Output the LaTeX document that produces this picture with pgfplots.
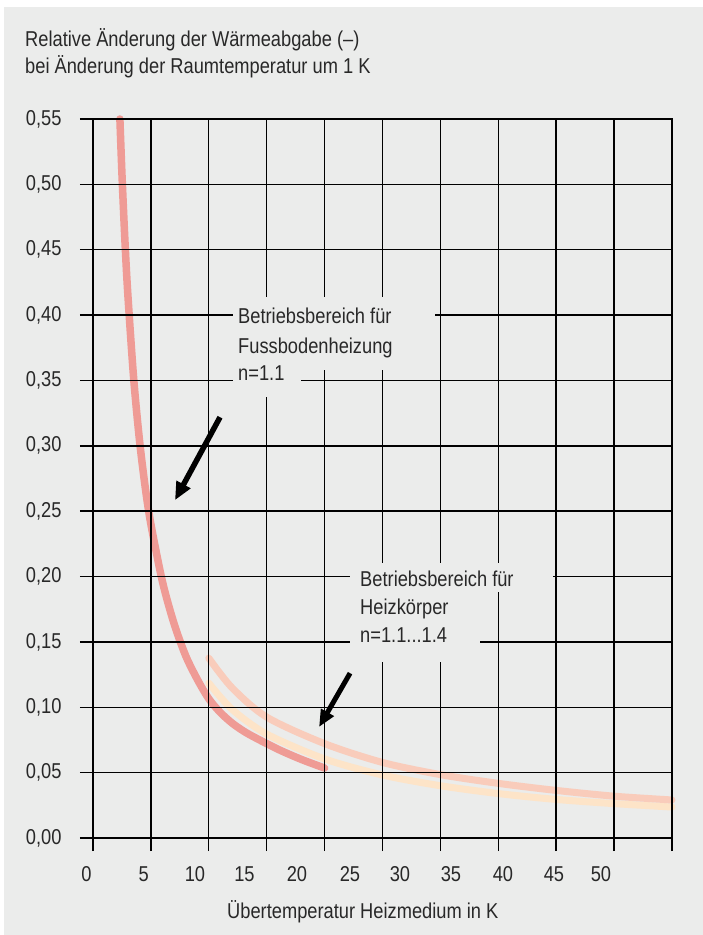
\documentclass[border=0pt]{standalone}
\usepackage{fontspec}
\setmainfont{Liberation Sans}[FakeStretch=0.85]
\usepackage{pgfplots}
\pgfplotsset{compat=1.18}
\usetikzlibrary{arrows.meta}
\definecolor{bgc}{RGB}{235,236,235}
\definecolor{txt}{RGB}{40,40,40}
\definecolor{redc}{RGB}{239,155,149}
\definecolor{peach}{RGB}{249,204,187}
\definecolor{cream}{RGB}{253,228,200}
\newcommand{\fs}{\fontsize{21.5}{26}\selectfont}
\begin{document}
\begin{tikzpicture}[x=1pt,y=1pt]
\fill[white] (0,0) rectangle (703,-935);
\fill[bgc] (4,-7) rectangle (703,-935);
\node[anchor=base west, font=\fs, text=txt, inner sep=0] at (25,-46) {Relative Änderung der Wärmeabgabe (–)};
\node[anchor=base west, font=\fs, text=txt, inner sep=0] at (25,-73) {bei Änderung der Raumtemperatur um 1 K};
\begin{axis}[at={(93pt,-838pt)}, anchor=south west, scale only axis,
  width=579pt, height=719pt,
  xmin=0, xmax=50, ymin=0, ymax=0.55, clip=false, axis on top,
  axis line style={line width=1.4pt, black},
  grid=major, grid style={line width=1.4pt, black},
  tick pos=left, tick align=outside, major tick length=13pt,
  major tick style={line width=1.4pt, black},
  xtick={0,5,10,15,20,25,30,35,40,45,50},
  xticklabels={\kern-13pt 0,\kern-14.4pt 5,\kern-27.6pt 10,\kern-44.4pt 15,\kern-55.2pt 20,\kern-65pt 25,\kern-80.8pt 30,\kern-94.6pt 35,\kern-106.4pt 40,\kern-120.2pt 45,\kern-142pt 50},
  ytick={0,0.05,0.1,0.15,0.2,0.25,0.3,0.35,0.4,0.45,0.5,0.55},
  yticklabels={{0,00},{0,05},{0,10},{0,15},{0,20},{0,25},{0,30},{0,35},{0,40},{0,45},{0,50},{0,55}},
  tick label style={font=\fs, text=txt},
  xticklabel style={yshift=-12pt},
  yticklabel style={xshift=-15pt},
  /pgf/number format/assume math mode=true,
  xlabel={Übertemperatur Heizmedium in K},
  xlabel style={font=\fs, text=txt, at={(axis description cs:0.466,0)}, anchor=base, yshift=-80pt},
]
\addplot[color=cream, line width=7pt, smooth, line cap=round] coordinates {
(10,0.1185) (12,0.0985) (15,0.0795) (20,0.0605) (25,0.0482) (30,0.0400)
(35,0.0340) (40,0.0295) (45,0.0263) (50,0.0237)};
\addplot[color=peach, line width=7pt, smooth, line cap=round] coordinates {
(10,0.1376) (12,0.1150) (15,0.0925) (20,0.0722) (25,0.0578) (30,0.0485)
(35,0.0418) (40,0.0364) (45,0.0320) (50,0.0291)};
\addplot[color=redc, line width=7.5pt, smooth, line cap=round] coordinates {
(2.323,0.550) (2.5,0.508) (2.75,0.4582) (3,0.4170) (3.5,0.3529) (4,0.3055)
(4.5,0.2689) (5,0.2400) (6,0.1960) (7,0.1640) (8,0.1395) (9,0.1215)
(10,0.1065) (11,0.0960) (12,0.0880) (13,0.0818) (14,0.0768) (16,0.0678)
(18,0.0601) (20,0.0535)};
\draw[line width=5.5pt, -{Triangle[length=18pt,width=15pt]}] (axis cs:10.97,0.3219) -- (axis cs:7.08,0.2584);
\draw[line width=5pt, -{Triangle[length=17pt,width=14pt]}] (axis cs:22.2,0.1261) -- (axis cs:19.52,0.0849);
\coordinate (a1) at (axis cs:12.09,0.4136);
\coordinate (a2) at (axis cs:29.53,0.3578);
\coordinate (b1) at (axis cs:12.09,0.3578);
\coordinate (b2) at (axis cs:17.96,0.3372);
\coordinate (c1) at (axis cs:22.19,0.2102);
\coordinate (c2) at (axis cs:39.72,0.1881);
\coordinate (d1) at (axis cs:22.19,0.1881);
\coordinate (d2) at (axis cs:33.42,0.1346);
\coordinate (t1) at (axis cs:12.52,0.3937);
\coordinate (t2) at (axis cs:12.52,0.3708);
\coordinate (t3) at (axis cs:12.52,0.3502);
\coordinate (u1) at (axis cs:23.06,0.1927);
\coordinate (u2) at (axis cs:23.06,0.1713);
\coordinate (u3) at (axis cs:23.06,0.1498);
\end{axis}
\fill[bgc] (a1) rectangle (a2);
\fill[bgc] (b1) rectangle (b2);
\fill[bgc] (c1) rectangle (c2);
\fill[bgc] (d1) rectangle (d2);
\begin{scope}[every node/.style={anchor=base west, font=\fs, text=txt, inner sep=0}]
\node at (t1) {Betriebsbereich für};
\node at (t2) {Fussbodenheizung};
\node at (t3) {n=1.1};
\node at (u1) {Betriebsbereich für};
\node at (u2) {Heizkörper};
\node at (u3) {n=1.1...1.4};
\end{scope}
\end{tikzpicture}
\end{document}
